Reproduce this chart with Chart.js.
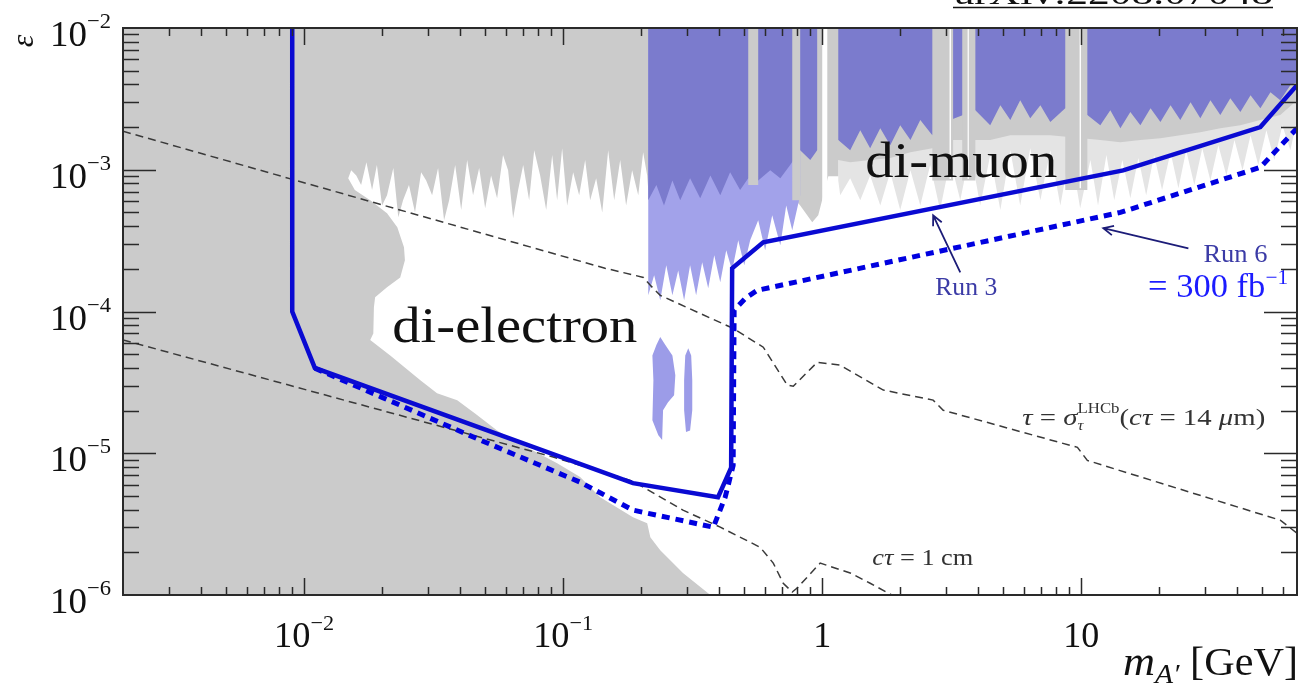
<!DOCTYPE html>
<html>
<head>
<meta charset="utf-8">
<script src="https://cdn.jsdelivr.net/npm/chart.js@4.4.1/dist/chart.umd.min.js"></script>
<style>
  html, body { margin: 0; padding: 0; background: #fff; }
  canvas { display: block; }
</style>
</head>
<body>
<canvas id="chart-darkphoton" width="1304" height="684"></canvas>
<script>
// Rangos de los ejes
const xRange = [0.002, 68];
const yRange = [1e-6, 1e-2];

// Marcas con etiqueta
const xMajorTicks = [0.01, 0.1, 1, 10];
const xTickText = [['10', '−2'], ['10', '−1'], ['1', ''], ['10', '']];
const yMajorTicks = [1e-2, 1e-3, 1e-4, 1e-5, 1e-6];
const yTickText = [['10', '−2'], ['10', '−3'], ['10', '−4'], ['10', '−5'], ['10', '−6']];

// Alcance proyectado [m_A' (GeV), epsilon]
const runThree = [[0.0090, 1e-2], [0.0090, 1.0e-4], [0.0110, 4.0e-5], [0.186, 6.15e-6], [0.396, 4.9e-6],
  [0.445, 7.9e-6], [0.449, 2.02e-4], [0.592, 3.08e-4], [14.5, 9.9e-4], [49.1, 2.0e-3], [68, 3.95e-3]];
const runSix = [[0.0110, 3.98e-5], [0.0199, 2.49e-5], [0.0478, 1.24e-5], [0.1163, 6.25e-6], [0.186, 3.97e-6],
  [0.380, 3.01e-6], [0.422, 4.9e-6], [0.453, 8.2e-6], [0.457, 1.02e-4], [0.505, 1.24e-4], [0.561, 1.41e-4],
  [14.15, 5.0e-4], [49.1, 1.04e-3], [68, 1.96e-3]];

// Contornos de vida media
const tauContour = [[0.0020, 1.87e-3], [0.145, 2.02e-4], [0.204, 1.74e-4], [0.217, 1.53e-4], [0.237, 1.30e-4],
  [0.453, 7.6e-5], [0.592, 5.6e-5], [0.733, 3.02e-5], [0.773, 2.97e-5], [0.956, 4.38e-5], [1.173, 4.18e-5],
  [1.721, 2.79e-5], [2.68, 2.37e-5], [2.93, 2.01e-5], [9.66, 1.10e-5], [10.55, 8.9e-6], [58.6, 3.37e-6], [68, 2.73e-6]];
const ctauContour = [[0.0020, 6.3e-5], [0.0915, 9.4e-6], [0.186, 6.35e-6], [0.290, 3.97e-6], [0.404, 3.01e-6],
  [0.576, 2.17e-6], [0.647, 1.68e-6], [0.707, 1.21e-6], [0.766, 1.05e-6], [0.800, 1.12e-6], [0.982, 1.68e-6],
  [1.282, 1.43e-6], [1.531, 1.21e-6], [1.913, 0.97e-6]];

// Limites existentes (gris): contorno de la ventana abierta
const excludedRegion = [[0.002, 1e-6], [0.002, 1e-2], [68, 1e-2],
  [68, 3.09e-3], [58.6, 2.43e-3], [49.1, 2.24e-3], [41.1, 2.06e-3], [34.4, 1.96e-3], [28.8, 1.84e-3],
  [24.1, 1.75e-3], [20.2, 1.67e-3], [16.9, 1.62e-3], [14.15, 1.56e-3], [11.84, 1.62e-3], [7.59, 1.75e-3],
  [5.32, 1.75e-3], [4.45, 1.62e-3], [3.12, 1.62e-3], [2.66, 1.42e-3], [2.19, 1.33e-3], [1.83, 1.21e-3],
  [1.531, 1.17e-3], [1.282, 1.13e-3], [1.153, 1.17e-3], [1.055, 9.0e-4], [0.965, 4.77e-4], [0.915, 4.26e-4],
  [0.822, 5.6e-4], [0.720, 7.4e-4], [0.587, 7.8e-4], [0.527, 7.2e-4], [0.338, 6.6e-4], [0.213, 7.2e-4],
  [0.211, 9.1e-4], [0.2036, 1.33e-3], [0.1949, 6.6e-4], [0.1846, 9.9e-4], [0.1750, 5.6e-4], [0.1660, 1.17e-3],
  [0.1574, 6.1e-4], [0.1492, 1.37e-3], [0.1415, 5.0e-4], [0.1341, 8.7e-4], [0.1271, 6.1e-4], [0.1216, 1.17e-3],
  [0.1153, 6.6e-4], [0.1093, 9.6e-4], [0.1036, 5.6e-4], [0.0991, 1.42e-3], [0.0948, 6.1e-4], [0.0907, 1.27e-3],
  [0.0860, 5.2e-4], [0.0815, 9.1e-4], [0.0773, 1.37e-3], [0.0739, 6.1e-4], [0.0701, 1.08e-3], [0.0670, 7.2e-4],
  [0.0641, 4.55e-4], [0.0613, 9.9e-4], [0.0586, 1.27e-3], [0.0556, 6.3e-4], [0.0527, 9.1e-4], [0.0500, 5.35e-4],
  [0.0474, 1.03e-3], [0.0449, 6.6e-4], [0.0426, 1.17e-3], [0.0404, 5.2e-4], [0.0383, 1.08e-3], [0.0363, 6.1e-4],
  [0.0347, 4.40e-4], [0.0329, 1.03e-3], [0.0312, 6.6e-4], [0.0296, 8.4e-4], [0.0283, 9.6e-4], [0.0268, 5.0e-4],
  [0.0254, 7.8e-4], [0.0241, 6.1e-4], [0.0231, 4.62e-4], [0.0221, 1.03e-3], [0.0209, 6.6e-4], [0.0200, 5.6e-4],
  [0.0191, 1.08e-3], [0.0183, 7.2e-4], [0.0174, 1.13e-3], [0.0166, 7.8e-4], [0.0159, 9.1e-4], [0.0152, 9.9e-4],
  [0.0148, 8.7e-4],
  [0.0157, 7.2e-4], [0.0180, 6.1e-4], [0.0209, 4.93e-4], [0.0229, 3.93e-4], [0.0243, 2.84e-4], [0.0245, 2.30e-4],
  [0.0235, 1.74e-4], [0.0209, 1.48e-4], [0.0188, 1.26e-4], [0.0186, 1.07e-4], [0.0185, 7.0e-5], [0.0180, 6.3e-5],
  [0.0215, 4.9e-5], [0.0281, 3.27e-5], [0.0326, 2.65e-5], [0.0390, 2.37e-5], [0.0457, 1.91e-5], [0.0556, 1.45e-5],
  [0.0641, 1.24e-5], [0.0948, 8.5e-6], [0.1163, 6.8e-6], [0.139, 4.9e-6], [0.186, 3.54e-6], [0.211, 3.21e-6],
  [0.217, 2.56e-6], [0.237, 2.07e-6], [0.290, 1.43e-6], [0.370, 1e-6]];
// franja clara de limites bajo la zona di-muon
const excludedFringe = [[1.153, 1e-2], [68, 1e-2],
  [68, 2.24e-3], [64.1, 1.37e-3], [59.7, 2.06e-3], [55.6, 1.17e-3], [51.8, 1.90e-3], [48.2, 1.08e-3], [45.0, 1.75e-3],
  [41.9, 9.9e-4], [39.0, 1.62e-3], [36.3, 9.1e-4], [33.8, 1.49e-3], [31.5, 8.4e-4], [29.3, 1.42e-3], [27.3, 7.8e-4],
  [25.4, 1.37e-3], [23.7, 7.4e-4], [22.1, 1.33e-3], [20.5, 7.2e-4], [19.1, 1.27e-3], [17.8, 6.6e-4], [16.6, 1.21e-3],
  [15.46, 6.3e-4], [14.4, 1.17e-3], [13.4, 6.1e-4], [12.5, 1.27e-3], [11.6, 5.6e-4], [10.84, 1.17e-3], [9.9, 5.35e-4],
  [9.07, 1.37e-3], [8.30, 5.6e-4], [7.59, 1.37e-3], [6.95, 6.1e-4], [6.35, 1.42e-3], [5.81, 5.6e-4], [5.32, 1.37e-3],
  [4.87, 5.2e-4], [4.45, 1.27e-3], [4.07, 5.6e-4], [3.73, 1.37e-3], [3.41, 6.1e-4], [3.12, 1.17e-3], [2.85, 5.2e-4],
  [2.61, 1.08e-3], [2.39, 5.6e-4], [2.19, 9.9e-4], [2.00, 5.2e-4], [1.83, 9.6e-4], [1.675, 5.6e-4], [1.531, 9.1e-4],
  [1.402, 6.1e-4], [1.282, 8.7e-4], [1.173, 6.6e-4], [1.153, 8.4e-4]];

// Exclusion LHCb di-muon
const muonExcluded = [[0.213, 1e-2], [68, 1e-2],
  [68, 4.14e-3], [64.1, 3.95e-3], [58.6, 3.09e-3], [53.7, 3.52e-3], [49.1, 2.72e-3], [45.0, 3.36e-3], [41.1, 2.55e-3],
  [37.6, 3.20e-3], [34.4, 2.43e-3], [31.5, 3.09e-3], [28.8, 2.31e-3], [26.4, 2.99e-3], [24.1, 2.24e-3], [22.1, 2.85e-3],
  [20.2, 2.17e-3], [18.5, 2.72e-3], [16.9, 2.06e-3], [15.46, 2.55e-3], [14.15, 1.96e-3], [12.94, 2.63e-3],
  [11.84, 2.06e-3], [10.55, 2.43e-3], [8.67, 2.72e-3], [7.59, 2.17e-3], [6.95, 2.85e-3], [6.35, 2.31e-3],
  [5.81, 3.09e-3], [5.32, 2.24e-3], [4.87, 2.85e-3], [4.45, 2.06e-3], [3.90, 2.63e-3], [3.12, 2.24e-3],
  [2.66, 1.75e-3], [2.39, 2.24e-3], [2.19, 1.62e-3], [2.00, 2.06e-3], [1.83, 1.49e-3], [1.675, 1.96e-3],
  [1.531, 1.42e-3], [1.402, 1.90e-3], [1.282, 1.37e-3], [1.153, 1.62e-3], [0.956, 1.37e-3], [0.899, 1.17e-3],
  [0.822, 1.37e-3], [0.752, 1.08e-3], [0.689, 8.7e-4], [0.630, 9.9e-4], [0.566, 8.4e-4], [0.518, 8.7e-4],
  [0.482, 7.2e-4], [0.441, 9.6e-4], [0.404, 6.6e-4], [0.370, 9.1e-4], [0.338, 6.3e-4], [0.309, 8.7e-4],
  [0.283, 6.1e-4], [0.264, 8.4e-4], [0.245, 5.6e-4], [0.229, 7.8e-4], [0.213, 6.1e-4]];
const muonFringe = [[0.213, 1e-2], [0.822, 1e-2],
  [0.822, 6.6e-4], [0.766, 3.74e-4], [0.726, 5.6e-4], [0.689, 2.93e-4], [0.641, 4.77e-4], [0.602, 2.70e-4],
  [0.566, 4.40e-4], [0.527, 3.18e-4], [0.500, 2.12e-4], [0.474, 3.18e-4], [0.449, 1.95e-4], [0.426, 2.70e-4],
  [0.404, 1.61e-4], [0.383, 2.49e-4], [0.363, 1.46e-4], [0.344, 2.23e-4], [0.326, 1.30e-4], [0.309, 2.12e-4],
  [0.293, 1.20e-4], [0.278, 1.95e-4], [0.264, 1.30e-4], [0.250, 2.12e-4], [0.237, 1.20e-4], [0.2245, 1.80e-4],
  [0.213, 1.30e-4]];
// huecos verticales dentro de la zona azul
const greyGaps = [[0.518, 1e-2], [0.518, 7.8e-4], [0.566, 7.8e-4], [0.566, 1e-2],
  [0.766, 1e-2], [0.766, 6.1e-4], [0.822, 6.1e-4], [0.822, 1e-2],
  [0.956, 1e-2], [0.956, 9.0e-4], [1.153, 9.0e-4], [1.153, 1e-2],
  [2.66, 1e-2], [2.66, 8.4e-4], [3.20, 8.4e-4], [3.20, 1e-2],
  [3.47, 1e-2], [3.47, 8.4e-4], [3.90, 8.4e-4], [3.90, 1e-2],
  [8.67, 1e-2], [8.67, 7.2e-4], [10.55, 7.2e-4], [10.55, 1e-2]];
const whiteGaps = [[1.0, 1e-2], [1.0, 6.0e-4], [1.046, 6.0e-4], [1.046, 1e-2],
  [3.10, 1e-2], [3.10, 8.6e-4], [3.14, 8.6e-4], [3.14, 1e-2],
  [3.64, 1e-2], [3.64, 8.6e-4], [3.68, 8.6e-4], [3.68, 1e-2],
  [9.85, 1e-2], [9.85, 7.4e-4], [9.97, 7.4e-4], [9.97, 1e-2]];
const electronSpotA = [[0.237, 6.6e-5], [0.248, 5.8e-5], [0.264, 4.9e-5], [0.271, 3.55e-5], [0.268, 2.57e-5],
  [0.254, 2.29e-5], [0.243, 2.01e-5], [0.241, 1.24e-5], [0.233, 1.34e-5], [0.221, 1.71e-5], [0.223, 3.27e-5],
  [0.221, 4.9e-5], [0.229, 5.8e-5]];
const electronSpotB = [[0.304, 5.5e-5], [0.312, 4.9e-5], [0.315, 3.27e-5], [0.315, 2.01e-5], [0.309, 1.45e-5],
  [0.298, 1.41e-5], [0.293, 2.01e-5], [0.293, 3.27e-5], [0.296, 4.9e-5]];

const pts = a => a.map(([x, y]) => ({x, y}));

const shape = (data, color, order) => ({
    data: pts(data), showLine: true, fill: 'shape', backgroundColor: color,
    borderWidth: 0, borderColor: 'rgba(0,0,0,0)', pointRadius: 0, order, clip: 0
});
const curve = (data, color, width, dash, order) => ({
    data: pts(data), showLine: true, fill: false, borderColor: color, borderWidth: width,
    borderDash: dash, borderCapStyle: 'butt', pointRadius: 0, order, clip: 0
});

// Texto con tramos (cursiva, super/subindices) ajustado a un ancho
const serif = '"Liberation Serif", "Times New Roman", serif';
function fontOf(r) { return (r.i ? 'italic ' : '') + r.s + 'px ' + serif; }
function runsWidth(ctx, runs) {
    let w = 0, held = 0;
    runs.forEach(r => {
        ctx.font = fontOf(r);
        const rw = ctx.measureText(r.t).width;
        if (r.stack) held = rw; else { w += Math.max(rw, held); held = 0; }
    });
    return w;
}
function drawRuns(ctx, runs, x, y, o) {
    const natural = runsWidth(ctx, runs);
    const sx = o.width ? o.width / natural : 1;
    const total = natural * sx;
    const x0 = o.align === 'right' ? x - total : o.align === 'center' ? x - total / 2 : x;
    ctx.save();
    ctx.translate(x0, y);
    ctx.scale(sx, 1);
    ctx.fillStyle = o.color || '#111';
    ctx.textAlign = 'left';
    ctx.textBaseline = 'alphabetic';
    let cx = 0, held = 0;
    runs.forEach(r => {
        ctx.font = fontOf(r);
        ctx.fillText(r.t, cx, r.dy || 0);
        const rw = ctx.measureText(r.t).width;
        if (r.stack) held = rw; else { cx += Math.max(rw, held); held = 0; }
    });
    ctx.restore();
}
function arrow(ctx, x1, y1, x2, y2) {
    const a = Math.atan2(y2 - y1, x2 - x1), h = 11;
    ctx.beginPath();
    ctx.moveTo(x1, y1);
    ctx.lineTo(x2, y2);
    ctx.moveTo(x2 - h * Math.cos(a - 0.45), y2 - h * Math.sin(a - 0.45));
    ctx.lineTo(x2, y2);
    ctx.lineTo(x2 - h * Math.cos(a + 0.45), y2 - h * Math.sin(a + 0.45));
    ctx.stroke();
}
function logTicks(min, max) {
    const out = [];
    for (let e = Math.floor(Math.log10(min)); e <= Math.ceil(Math.log10(max)); e++) {
        for (let m = 1; m <= 9; m++) {
            const v = m * Math.pow(10, e);
            if (v > min * 1.001 && v < max * 0.999) out.push({v, major: m === 1});
        }
    }
    return out;
}

const decorPlugin = {
    id: 'decor',
    afterDatasetsDraw(chart) {
        const {ctx, scales: {x, y}} = chart;
        const P = (m, e) => [x.getPixelForValue(m), y.getPixelForValue(e)];
        ctx.save();
        let p = P(1.466, 8.85e-4);
        drawRuns(ctx, [{t: 'di-muon', s: 50}], p[0], p[1], {width: 192});
        p = P(0.0219, 6.07e-5);
        drawRuns(ctx, [{t: 'di-electron', s: 50}], p[0], p[1], {width: 245});
        p = P(2.73, 1.30e-4);
        drawRuns(ctx, [{t: 'Run 3', s: 25}], p[0], p[1], {width: 62, color: '#3b3ba6'});
        p = P(29.6, 2.23e-4);
        drawRuns(ctx, [{t: 'Run 6', s: 25}], p[0], p[1], {width: 64, color: '#3b3ba6'});
        p = P(18.1, 1.26e-4);
        drawRuns(ctx, [{t: '= 300 fb', s: 34}, {t: '−1', s: 21, dy: -13}], p[0], p[1], {width: 140, color: '#1c1cff'});
        p = P(5.92, 1.58e-5);
        drawRuns(ctx, [{t: 'τ', s: 24, i: 1}, {t: ' = ', s: 24}, {t: 'σ', s: 24, i: 1},
            {t: 'LHCb', s: 14, dy: -12, stack: 1}, {t: 'τ', s: 14, i: 1, dy: 5}, {t: '(', s: 24},
            {t: 'cτ', s: 24, i: 1}, {t: ' = 14 ', s: 24}, {t: 'μ', s: 24, i: 1}, {t: 'm)', s: 24}],
            p[0], p[1], {width: 243, color: '#333'});
        p = P(1.56, 1.62e-6);
        drawRuns(ctx, [{t: 'cτ', s: 24, i: 1}, {t: ' = 1 cm', s: 24}], p[0], p[1], {width: 101, color: '#333'});

        // flechas
        ctx.strokeStyle = '#1c1c78';
        ctx.lineWidth = 1.8;
        const a1 = P(3.41, 1.89e-4), t1 = P(2.68, 4.77e-4);
        arrow(ctx, a1[0], a1[1], t1[0], t1[1]);
        const a2 = P(25.9, 2.79e-4), t2 = P(12.16, 3.87e-4);
        arrow(ctx, a2[0], a2[1], t2[0], t2[1]);
        ctx.restore();
    },
    afterDraw(chart) {
        const {ctx, chartArea: A, scales: {x, y}} = chart;
        ctx.save();
        ctx.strokeStyle = '#2a2a2a';
        ctx.lineWidth = 1.5;
        ctx.beginPath();
        logTicks(xRange[0], xRange[1]).forEach(t => {
            const px = Math.round(x.getPixelForValue(t.v)) + 0.5;
            const len = t.major ? 17 : 8;
            ctx.moveTo(px, A.bottom); ctx.lineTo(px, A.bottom - len);
            ctx.moveTo(px, A.top); ctx.lineTo(px, A.top + len);
        });
        logTicks(yRange[0], yRange[1]).forEach(t => {
            const py = Math.round(y.getPixelForValue(t.v)) + 0.5;
            const len = t.major ? 33 : 16;
            ctx.moveTo(A.left, py); ctx.lineTo(A.left + len, py);
            ctx.moveTo(A.right, py); ctx.lineTo(A.right - len, py);
        });
        ctx.stroke();
        ctx.lineWidth = 2;
        ctx.strokeRect(A.left, A.top, A.right - A.left, A.bottom - A.top);

        // etiquetas de los ejes
        yMajorTicks.forEach((v, i) => {
            const py = y.getPixelForValue(v);
            drawRuns(ctx, [{t: yTickText[i][0], s: 36}, {t: yTickText[i][1], s: 22, dy: -18}],
                A.left - 12, py + 18, {align: 'right', width: 61});
        });
        xMajorTicks.forEach((v, i) => {
            const px = x.getPixelForValue(v);
            const runs = [{t: xTickText[i][0], s: 36}];
            if (xTickText[i][1]) runs.push({t: xTickText[i][1], s: 22, dy: -17});
            drawRuns(ctx, runs, px, A.bottom + 52, {align: 'center', width: xTickText[i][1] ? 60 : undefined});
        });
        drawRuns(ctx, [{t: 'm', s: 42, i: 1}, {t: 'A′', s: 28, i: 1, dy: 8}, {t: ' [GeV]', s: 40}],
            A.right + 1, A.bottom + 80, {align: 'right', width: 175});

        ctx.save();
        ctx.translate(A.left - 98, A.top + 13);
        ctx.rotate(-Math.PI / 2);
        ctx.font = 'italic 32px ' + serif;
        ctx.fillStyle = '#111';
        ctx.textAlign = 'center';
        ctx.textBaseline = 'middle';
        ctx.fillText('ε', 0, 0);
        ctx.restore();

        // referencia arXiv (cortada arriba)
        drawRuns(ctx, [{t: 'arXiv:2208.07048', s: 32}], 955, 4, {width: 318});
        ctx.strokeStyle = '#111';
        ctx.lineWidth = 1.5;
        ctx.beginPath();
        ctx.moveTo(953, 7.5); ctx.lineTo(1273, 7.5);
        ctx.stroke();
        ctx.restore();
    }
};

const hiddenAxis = (range) => ({
    type: 'logarithmic', min: range[0], max: range[1], bounds: 'data',
    grid: {display: false, drawTicks: false}, border: {display: false}, ticks: {display: false}
});

new Chart(document.getElementById('chart-darkphoton'), {
    type: 'scatter',
    data: {
        datasets: [
            curve(runThree, '#0a0ad2', 4.5, [], 0),
            curve(runSix, '#0000e0', 5, [8, 6], 1),
            curve(tauContour, '#3a3a3a', 1.5, [8, 5], 2),
            curve(ctauContour, '#3a3a3a', 1.5, [8, 5], 3),
            shape(electronSpotA, '#9c9ce8', 4),
            shape(electronSpotB, '#9c9ce8', 5),
            shape(whiteGaps, '#ffffff', 6),
            shape(greyGaps, '#cbcbcb', 7),
            shape(muonExcluded, '#7b7bcd', 8),
            shape(muonFringe, '#a2a2ea', 9),
            shape(excludedRegion, '#cbcbcb', 10),
            shape(excludedFringe, '#e4e4e4', 11)
        ]
    },
    options: {
        responsive: false,
        animation: false,
        events: [],
        devicePixelRatio: 1,
        layout: {padding: {left: 123, top: 28, right: 7, bottom: 89}},
        plugins: {legend: {display: false}, tooltip: {enabled: false}},
        scales: {x: hiddenAxis(xRange), y: hiddenAxis(yRange)}
    },
    plugins: [decorPlugin]
});
</script>
</body>
</html>
